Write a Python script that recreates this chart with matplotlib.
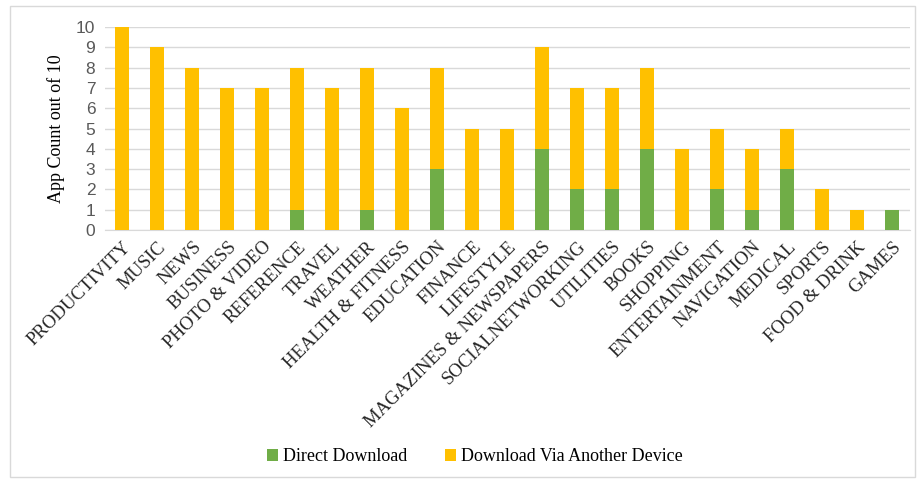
import matplotlib
matplotlib.use("Agg")
import matplotlib.pyplot as plt
from matplotlib.patches import Rectangle
import numpy as np

categories = ["PRODUCTIVITY", "MUSIC", "NEWS", "BUSINESS", "PHOTO & VIDEO", "REFERENCE",
              "TRAVEL", "WEATHER", "HEALTH & FITNESS", "EDUCATION", "FINANCE", "LIFESTYLE",
              "MAGAZINES & NEWSPAPERS", "SOCIALNETWORKING", "UTILITIES", "BOOKS", "SHOPPING",
              "ENTERTAINMENT", "NAVIGATION", "MEDICAL", "SPORTS", "FOOD & DRINK", "GAMES"]
direct = [0, 0, 0, 0, 0, 1, 0, 1, 0, 3, 0, 0, 4, 2, 2, 4, 0, 2, 1, 3, 0, 0, 1]
via_device = [10, 9, 8, 7, 7, 7, 7, 7, 6, 5, 5, 5, 5, 5, 5, 4, 4, 3, 3, 2, 2, 1, 0]
yticks = list(range(0, 11))

serif = "Liberation Serif"
sans = "Liberation Sans"

fig = plt.figure(figsize=(9.17, 4.79), dpi=100)
ax = fig.add_axes([0.1145, 0.5198, 0.8775, 0.4238])

x = np.arange(len(categories))
ax.bar(x, direct, width=0.4, color="#70AD47", label="Direct Download", zorder=3)
ax.bar(x, via_device, width=0.4, bottom=direct, color="#FFC000",
       label="Download Via Another Device", zorder=3)

ax.set_xlim(-0.5, len(categories) - 0.5)
ax.set_ylim(0, 10)
ax.set_yticks(yticks)
ax.set_yticklabels([str(t) for t in yticks], fontsize=12.5, color="#595959", family=sans)
ax.yaxis.grid(True, color="#D9D9D9", linewidth=1, zorder=0)
ax.set_xticks(x)
ax.set_xticklabels(categories, rotation=45, ha="right", rotation_mode="anchor",
                   fontsize=13.5, family=serif, color="#262626")
ax.tick_params(axis="both", length=0, pad=7)
ax.tick_params(axis="x", pad=6)
for s in ["top", "right", "left"]:
    ax.spines[s].set_visible(False)
ax.spines["bottom"].set_color("#D9D9D9")
ax.set_ylabel("App Count out of 10", fontsize=13, family=serif, color="#000000", labelpad=8)

fig.legend(loc="center", bbox_to_anchor=(0.518, 0.046), ncol=2, frameon=False,
           prop={"family": serif, "size": 13}, handlelength=0.6, handleheight=0.6,
           columnspacing=2.1, handletextpad=0.3)

fig.patches.append(Rectangle((10 / 917, 0.005), 905 / 917, 1 - 6 / 479 - 0.005,
                             transform=fig.transFigure, fill=False, edgecolor="#D9D9D9",
                             linewidth=1))

fig.savefig("out.png", dpi=100)
